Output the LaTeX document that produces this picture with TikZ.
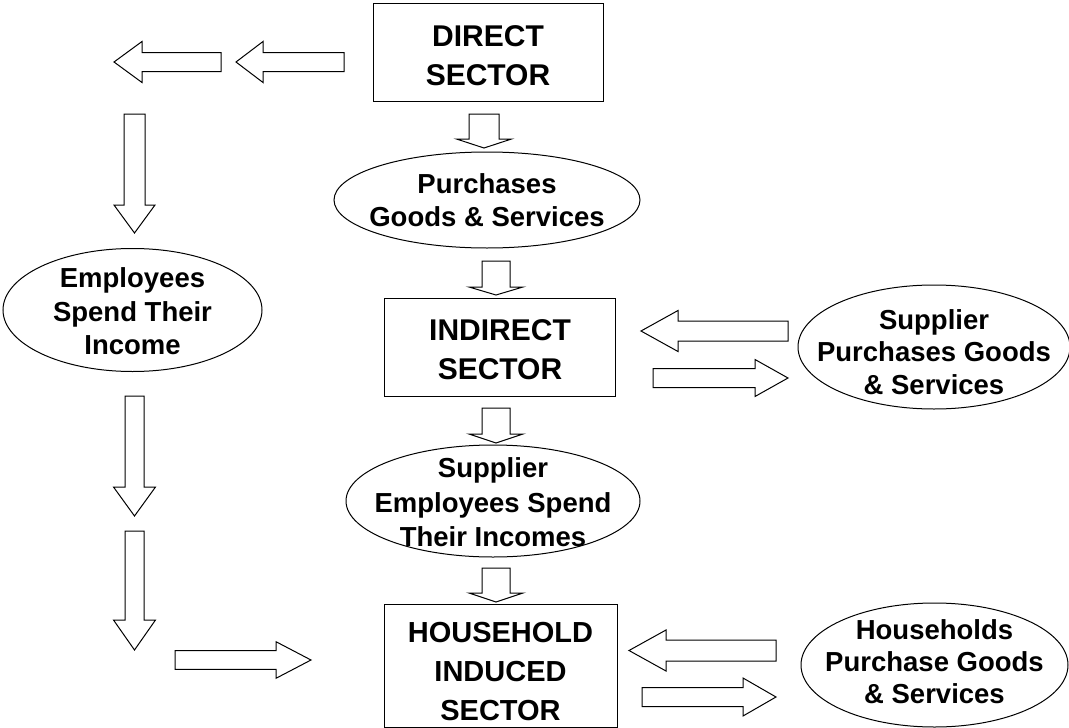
\documentclass[tikz,border=0pt]{standalone}
\usepackage{fontspec}
\setmainfont{Liberation Sans}
\usetikzlibrary{shapes.geometric}

\tikzset{
  every picture/.style={x=1pt,y=-1pt},
  sector/.style={draw, rectangle, line width=1pt, inner sep=0pt},
  sectortext/.style={align=center, inner sep=0pt,
    font=\fontsize{30}{39}\selectfont\bfseries},
  activity/.style={draw, ellipse, line width=1pt, inner sep=0pt},
  activitytext/.style={align=center, inner sep=0pt,
    font=\fontsize{27.5}{33.5}\selectfont\bfseries},
  flow/.style={draw, fill=white, line width=1pt, line join=miter},
  % hollow block arrow: length, shaft half-width, head half-width, head length
  pics/blockarrow/.style n args={4}{code={
    \draw[flow] (0,-#2) -- (#1-#4,-#2) -- (#1-#4,-#3) -- (#1,0)
      -- (#1-#4,#3) -- (#1-#4,#2) -- (0,#2) -- cycle;
  }}
}

\begin{document}
\begin{tikzpicture}
\useasboundingbox (0,0) rectangle (1069,728);

% sectors
\node[sector, minimum width=230, minimum height=98] (direct) at (488,52) {};
\node[sectortext] (directtext) at ([yshift=-3.5]direct.center) {DIRECT\\SECTOR};
\node[sector, minimum width=231, minimum height=98] (indirect) at (500,347) {};
\node[sectortext] (indirecttext) at ([yshift=-3]indirect.center) {INDIRECT\\SECTOR};
\node[sector, minimum width=233, minimum height=123] (household) at (500.5,665.5) {};
\node[sectortext, font=\fontsize{29}{39}\selectfont\bfseries] (householdtext)
  at ([yshift=-6]household.center) {HOUSEHOLD\\INDUCED\\SECTOR};

% activities
\node[activity, minimum width=306, minimum height=96] (purchases) at (487,200) {};
\node[activitytext] (purchasestext) at (purchases.center) {Purchases\\Goods \& Services};
\node[activity, minimum width=259, minimum height=123] (employees) at (132.5,310) {};
\node[activitytext] (employeestext) at ([yshift=-1.5]employees.center) {Employees\\Spend Their\\Income};
\node[activity, minimum width=272, minimum height=124] (supplierbuy) at (934,347) {};
\node[activitytext, font=\fontsize{27.5}{32.5}\selectfont\bfseries] (supplierbuytext)
  at ([yshift=-5]supplierbuy.center) {Supplier\\Purchases Goods\\\& Services};
\node[activity, minimum width=294, minimum height=112] (supplieremp) at (493,501) {};
\node[activitytext, font=\fontsize{27.5}{34.5}\selectfont\bfseries] (supplieremptext)
  at ([yshift=-1.5]supplieremp.center) {Supplier\\Employees Spend\\Their Incomes};
\node[activity, minimum width=267, minimum height=124] (households) at (934.5,665) {};
\node[activitytext, font=\fontsize{27.5}{32}\selectfont\bfseries] (householdstext)
  at ([yshift=3.5]households.center) {Households\\Purchase Goods\\\& Services};

% arrow tails
\coordinate (a1) at (344,62);
\coordinate (a2) at (221,62);
\coordinate (d1) at (134.5,114);
\coordinate (d2) at (134.5,396);
\coordinate (d3) at (134.5,531);
\coordinate (b1) at (175,660);
\coordinate (s1) at (484,114);
\coordinate (s2) at (496,261);
\coordinate (s3) at (496,408);
\coordinate (s4) at (496,568);
\coordinate (r1) at (788,331);
\coordinate (r2) at (653,378);
\coordinate (r3) at (776,650.5);
\coordinate (r4) at (642,697);

% direct income path on the left
\pic[rotate=180] at (a1) {blockarrow={108}{9.5}{20.5}{27}};
\pic[rotate=180] at (a2) {blockarrow={107}{9.5}{20.5}{28}};
\pic[rotate=-90] at (d1) {blockarrow={119}{10.5}{20.5}{28}};
\pic[rotate=-90] at (d2) {blockarrow={120}{9.5}{21}{29}};
\pic[rotate=-90] at (d3) {blockarrow={119}{9.5}{21}{30}};
\pic at (b1) {blockarrow={136}{9.3}{18.3}{35}};

% central chain
\pic[rotate=-90] at (s1) {blockarrow={34}{15}{27.5}{9}};
\pic[rotate=-90] at (s2) {blockarrow={34}{14}{27}{8}};
\pic[rotate=-90] at (s3) {blockarrow={35}{14}{27}{9}};
\pic[rotate=-90] at (s4) {blockarrow={34}{14}{27}{9}};

% exchanges on the right
\pic[rotate=180] at (r1) {blockarrow={147}{10}{20.5}{37}};
\pic at (r2) {blockarrow={135}{9.5}{18.5}{33}};
\pic[rotate=180] at (r3) {blockarrow={147}{10.5}{20.5}{37}};
\pic at (r4) {blockarrow={134}{9.5}{19}{33}};
\end{tikzpicture}
\end{document}
